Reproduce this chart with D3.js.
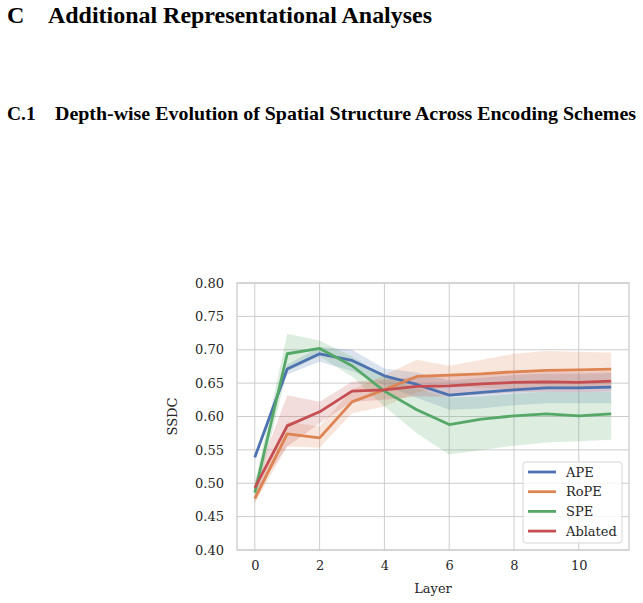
<!DOCTYPE html>
<html>
<head>
<meta charset="utf-8">
<script src="https://cdn.jsdelivr.net/npm/d3@7"></script>
<style>
  body { margin: 0; background: #fff; }
  .heading { font-family: "Liberation Serif", "Times New Roman", serif; font-weight: bold; fill: #000; }
  .tick text, .label { font-family: "DejaVu Serif", serif; font-size: 13px; fill: #262626; }
</style>
</head>
<body>
<div id="chart"></div>
<script>
// layer index on x, SSDC on y
var layers = [0, 1, 2, 3, 4, 5, 6, 7, 8, 9, 10, 11];
var xTicks = [0, 2, 4, 6, 8, 10];
var yTicks = [0.40, 0.45, 0.50, 0.55, 0.60, 0.65, 0.70, 0.75, 0.80];

var apeMean = [0.539, 0.671, 0.694, 0.684, 0.661, 0.648, 0.632, 0.636, 0.640, 0.643, 0.643, 0.644];
var apeLow  = [0.535, 0.663, 0.682, 0.668, 0.647, 0.628, 0.610, 0.612, 0.617, 0.620, 0.620, 0.620];
var apeHigh = [0.544, 0.678, 0.704, 0.700, 0.672, 0.666, 0.654, 0.658, 0.662, 0.664, 0.664, 0.665];

var ropeMean = [0.477, 0.574, 0.568, 0.622, 0.640, 0.660, 0.662, 0.664, 0.667, 0.669, 0.670, 0.671];
var ropeLow  = [0.470, 0.555, 0.553, 0.605, 0.615, 0.636, 0.645, 0.643, 0.640, 0.642, 0.643, 0.645];
var ropeHigh = [0.485, 0.592, 0.585, 0.640, 0.662, 0.685, 0.676, 0.685, 0.694, 0.698, 0.697, 0.696];

var speMean = [0.486, 0.694, 0.702, 0.676, 0.638, 0.610, 0.588, 0.596, 0.601, 0.604, 0.601, 0.604];
var speLow  = [0.470, 0.668, 0.690, 0.660, 0.615, 0.575, 0.543, 0.550, 0.556, 0.561, 0.563, 0.565];
var speHigh = [0.500, 0.724, 0.714, 0.690, 0.660, 0.642, 0.628, 0.630, 0.634, 0.637, 0.636, 0.637];

var ablMean = [0.493, 0.586, 0.607, 0.638, 0.640, 0.645, 0.646, 0.649, 0.651, 0.652, 0.651, 0.653];
var ablLow  = [0.485, 0.555, 0.590, 0.622, 0.625, 0.630, 0.630, 0.633, 0.636, 0.637, 0.636, 0.638];
var ablHigh = [0.502, 0.632, 0.622, 0.652, 0.655, 0.660, 0.662, 0.665, 0.667, 0.668, 0.667, 0.668];

var seriesNames = ['APE', 'RoPE', 'SPE', 'Ablated'];
var seriesColors = ['#4c72b0', '#dd8452', '#55a868', '#c44e52'];

var series = [
  {name: seriesNames[0], color: seriesColors[0], mean: apeMean, low: apeLow, high: apeHigh},
  {name: seriesNames[1], color: seriesColors[1], mean: ropeMean, low: ropeLow, high: ropeHigh},
  {name: seriesNames[2], color: seriesColors[2], mean: speMean, low: speLow, high: speHigh},
  {name: seriesNames[3], color: seriesColors[3], mean: ablMean, low: ablLow, high: ablHigh}
];

var width = 643, height = 603;
var plot = {left: 237, right: 629, top: 283, bottom: 550};

var svg = d3.select('#chart').append('svg')
  .attr('width', width)
  .attr('height', height);

// section headings above the figure
svg.append('text').attr('class', 'heading')
  .attr('x', 7).attr('y', 23).style('font-size', '24px')
  .text('C');
svg.append('text').attr('class', 'heading')
  .attr('x', 48).attr('y', 23).style('font-size', '24px')
  .attr('textLength', 384).attr('lengthAdjust', 'spacingAndGlyphs')
  .text('Additional Representational Analyses');
svg.append('text').attr('class', 'heading')
  .attr('x', 7).attr('y', 120).style('font-size', '19.5px')
  .text('C.1');
svg.append('text').attr('class', 'heading')
  .attr('x', 55).attr('y', 120).style('font-size', '19.5px')
  .attr('textLength', 581).attr('lengthAdjust', 'spacingAndGlyphs')
  .text('Depth-wise Evolution of Spatial Structure Across Encoding Schemes');

var x = d3.scaleLinear().domain([-0.55, 11.55]).range([plot.left, plot.right]);
var y = d3.scaleLinear().domain([0.40, 0.80]).range([plot.bottom, plot.top]);

// grid
var grid = svg.append('g');
grid.selectAll('line.gx').data(xTicks).enter().append('line')
  .attr('x1', function (d) { return x(d); })
  .attr('x2', function (d) { return x(d); })
  .attr('y1', plot.top).attr('y2', plot.bottom)
  .attr('stroke', '#cccccc').attr('stroke-width', 1);
grid.selectAll('line.gy').data(yTicks).enter().append('line')
  .attr('y1', function (d) { return y(d); })
  .attr('y2', function (d) { return y(d); })
  .attr('x1', plot.left).attr('x2', plot.right)
  .attr('stroke', '#cccccc').attr('stroke-width', 1);

// axes (labels only, whitegrid style)
var xAxis = svg.append('g')
  .attr('transform', 'translate(0,' + plot.bottom + ')')
  .call(d3.axisBottom(x).tickValues(xTicks).tickSize(0).tickPadding(11).tickFormat(d3.format('d')));
xAxis.select('.domain').remove();

var yAxis = svg.append('g')
  .attr('transform', 'translate(' + plot.left + ',0)')
  .call(d3.axisLeft(y).tickValues(yTicks).tickSize(0).tickPadding(13).tickFormat(d3.format('.2f')));
yAxis.select('.domain').remove();
svg.selectAll('.tick text').attr('class', 'label').style('font-size', '13px');

// bands
var area = d3.area()
  .x(function (d) { return x(d.layer); })
  .y0(function (d) { return y(d.low); })
  .y1(function (d) { return y(d.high); });
var line = d3.line()
  .x(function (d) { return x(d.layer); })
  .y(function (d) { return y(d.mean); });

function rows(s) {
  return layers.map(function (l, i) {
    return {layer: l, mean: s.mean[i], low: s.low[i], high: s.high[i]};
  });
}

series.forEach(function (s) {
  svg.append('path')
    .datum(rows(s))
    .attr('d', area)
    .attr('fill', s.color)
    .attr('fill-opacity', 0.2)
    .attr('stroke', 'none');
});
series.forEach(function (s) {
  svg.append('path')
    .datum(rows(s))
    .attr('d', line)
    .attr('fill', 'none')
    .attr('stroke', s.color)
    .attr('stroke-width', 2.8)
    .attr('stroke-linejoin', 'round');
});

// frame
svg.append('rect')
  .attr('x', plot.left).attr('y', plot.top)
  .attr('width', plot.right - plot.left).attr('height', plot.bottom - plot.top)
  .attr('fill', 'none').attr('stroke', '#cccccc').attr('stroke-width', 1.3);

// axis titles
svg.append('text').attr('class', 'label')
  .attr('x', (plot.left + plot.right) / 2).attr('y', 593)
  .attr('text-anchor', 'middle')
  .text('Layer');
svg.append('text').attr('class', 'label')
  .attr('transform', 'translate(177,' + ((plot.top + plot.bottom) / 2) + ')rotate(-90)')
  .attr('text-anchor', 'middle')
  .text('SSDC');

// legend
var legend = svg.append('g').attr('transform', 'translate(523,462)');
legend.append('rect')
  .attr('width', 99).attr('height', 81).attr('rx', 3)
  .attr('fill', '#fff').attr('fill-opacity', 0.8)
  .attr('stroke', '#d6d6d6').attr('stroke-width', 1);
var item = legend.selectAll('g.item').data(series).enter().append('g')
  .attr('transform', function (d, i) { return 'translate(0,' + (10 + i * 19.7) + ')'; });
item.append('line')
  .attr('x1', 5).attr('x2', 33).attr('y1', 0).attr('y2', 0)
  .attr('stroke', function (d) { return d.color; })
  .attr('stroke-width', 2.8);
item.append('text').attr('class', 'label')
  .attr('x', 43).attr('y', 0).attr('dy', '0.35em')
  .text(function (d) { return d.name; });
</script>
</body>
</html>
